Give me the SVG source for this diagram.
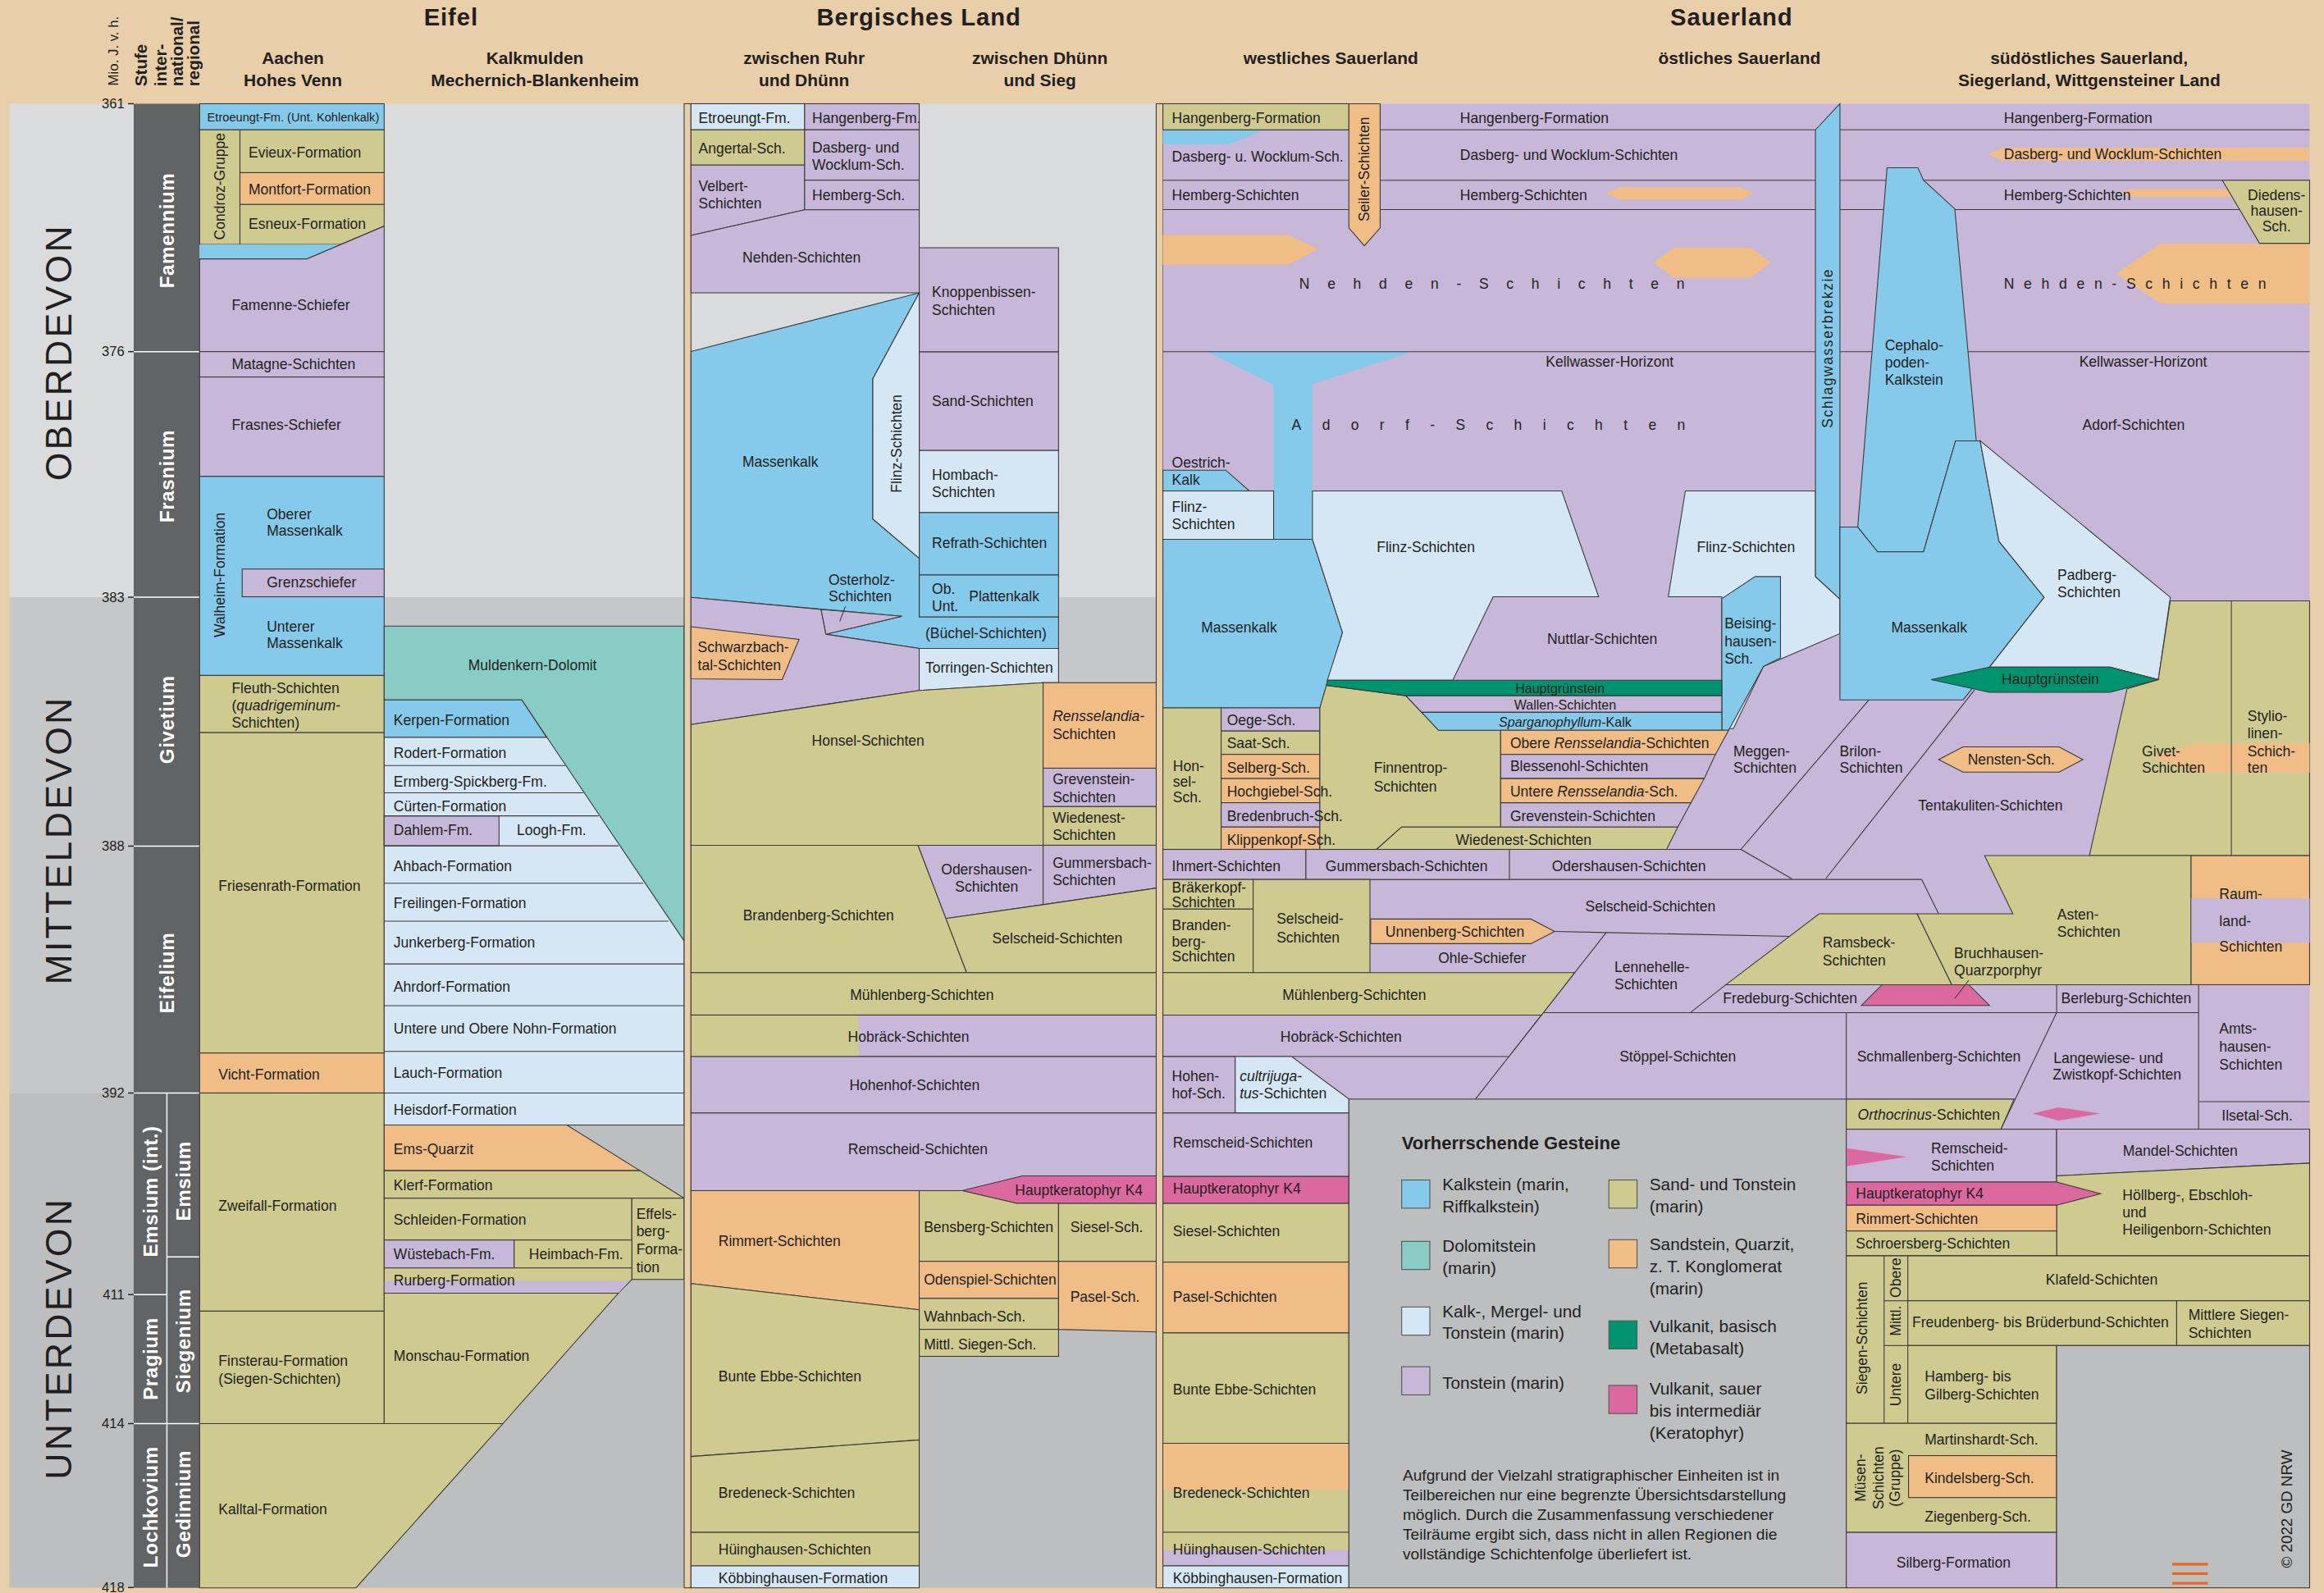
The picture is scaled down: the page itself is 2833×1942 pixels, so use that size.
<svg xmlns="http://www.w3.org/2000/svg" width="2833" height="1942" viewBox="0 0 2833 1942">
<style>
.k{fill:#85C9EB}.d{fill:#89CCC6}.m{fill:#D5E7F5}.t{fill:#C7B7D9}.s{fill:#CFCA8F}.q{fill:#F0BD87}.g{fill:#00936F}.p{fill:#DC68A0}
.u polygon,.u rect{stroke:#3a3a3a;stroke-width:.6}
.u .n{stroke:none}
.ln{stroke:#3a3a3a;stroke-width:.6;fill:none}
text{font-family:"Liberation Sans",Arial,sans-serif;font-size:9.7px;fill:#231F20;dominant-baseline:central}
.c{text-anchor:middle}
.i{font-style:italic}
.sm{font-size:8.1px}
.xs{font-size:8.9px}
.tk{font-size:9.2px;text-anchor:end}
.w{font-weight:bold;font-size:13.4px;fill:#fff;text-anchor:middle;letter-spacing:.3px}
.era{font-size:24.7px;letter-spacing:1.8px;text-anchor:middle}
.h1{font-weight:bold;font-size:16.2px;letter-spacing:.5px;text-anchor:middle}
.h2{font-weight:bold;font-size:11.6px;text-anchor:middle}
.h3{font-weight:bold;font-size:11.4px}
.lg{font-size:11.5px}
.pa{font-size:10.6px}
.lt{font-weight:bold;font-size:12.2px}
.sw{stroke:#555;stroke-width:.6}
</style>
<g transform="scale(1.80676,1.80651)">
<g id="background">
<rect width="1568" height="1075" fill="#E9CEAA"/>
<rect x="6.4" y="70" width="1551.9" height="333" fill="#DADBDC"/>
<rect x="6.4" y="403" width="1551.9" height="334.6" fill="#C6C7C9"/>
<rect x="6.4" y="737.6" width="1551.9" height="333.9" fill="#BDBEC0"/>
</g>
<g id="header">
<text class="h1" x="304.3" y="11.6">Eifel</text>
<text class="h1" x="620" y="11.6">Bergisches Land</text>
<text class="h1" x="1168.3" y="11.6">Sauerland</text>
<text class="h2" x="197.6" y="39.1">Aachen</text>
<text class="h2" x="197.6" y="54">Hohes Venn</text>
<text class="h2" x="360.9" y="39.1">Kalkmulden</text>
<text class="h2" x="360.9" y="54">Mechernich-Blankenheim</text>
<text class="h2" x="542.5" y="39.1">zwischen Ruhr</text>
<text class="h2" x="542.5" y="54">und Dhünn</text>
<text class="h2" x="701.6" y="39.1">zwischen Dhünn</text>
<text class="h2" x="701.6" y="54">und Sieg</text>
<text class="h2" x="897.9" y="39.1">westliches Sauerland</text>
<text class="h2" x="1173.6" y="39.1">östliches Sauerland</text>
<text class="h2" x="1409.5" y="39.1">südöstliches Sauerland,</text>
<text class="h2" x="1409.6" y="54">Siegerland, Wittgensteiner Land</text>
<text transform="translate(76.9,57.8) rotate(-90)" style="font-size:9.3px">Mio. J. v. h.</text>
<text class="h3" transform="translate(94.9,58.2) rotate(-90)">Stufe</text>
<text class="h3" transform="translate(108,58.2) rotate(-90)">inter-</text>
<text class="h3" transform="translate(119.4,58.2) rotate(-90)">national/</text>
<text class="h3" transform="translate(130.5,58.2) rotate(-90)">regional</text>
</g>
<g id="timescale">
<text class="era" transform="translate(39.4,237.6) rotate(-90)">OBERDEVON</text>
<text class="era" transform="translate(39.4,566.8) rotate(-90)">MITTELDEVON</text>
<text class="era" transform="translate(39.4,903) rotate(-90)">UNTERDEVON</text>
<rect x="90.2" y="70" width="44.5" height="1001.5" fill="#626365"/>
<g stroke="#fff" stroke-width=".8">
<line x1="90.2" y1="237.3" x2="134.7" y2="237.3"/>
<line x1="90.2" y1="403" x2="134.7" y2="403"/>
<line x1="90.2" y1="571" x2="134.7" y2="571"/>
<line x1="90.2" y1="737.6" x2="134.7" y2="737.6"/>
<line x1="90.2" y1="960.7" x2="134.7" y2="960.7"/>
<line x1="90.2" y1="873.6" x2="112.6" y2="873.6"/>
<line x1="112.6" y1="848.2" x2="134.7" y2="848.2"/>
<line x1="112.6" y1="737.6" x2="112.6" y2="1071.5"/>
</g>
<g stroke="#231F20" stroke-width=".8">
<line x1="86.4" y1="70" x2="90.2" y2="70"/>
<line x1="86.4" y1="237.3" x2="90.2" y2="237.3"/>
<line x1="86.4" y1="403" x2="90.2" y2="403"/>
<line x1="86.4" y1="571" x2="90.2" y2="571"/>
<line x1="86.4" y1="737.6" x2="90.2" y2="737.6"/>
<line x1="86.4" y1="873.6" x2="90.2" y2="873.6"/>
<line x1="86.4" y1="960.7" x2="90.2" y2="960.7"/>
<line x1="86.4" y1="1071.3" x2="90.2" y2="1071.3"/>
</g>
<text class="tk" x="84" y="70">361</text>
<text class="tk" x="84" y="237.3">376</text>
<text class="tk" x="84" y="403">383</text>
<text class="tk" x="84" y="571">388</text>
<text class="tk" x="84" y="737.6">392</text>
<text class="tk" x="84" y="873.6">411</text>
<text class="tk" x="84" y="960.7">414</text>
<text class="tk" x="84" y="1071.3">418</text>
<text class="w" transform="translate(112.4,155.5) rotate(-90)">Famennium</text>
<text class="w" transform="translate(112.4,321.3) rotate(-90)">Frasnium</text>
<text class="w" transform="translate(112.4,485.6) rotate(-90)">Givetium</text>
<text class="w" transform="translate(112.4,656.5) rotate(-90)">Eifelium</text>
<text class="w" transform="translate(101.4,804) rotate(-90)">Emsium (int.)</text>
<text class="w" transform="translate(123.6,797) rotate(-90)">Emsium</text>
<text class="w" transform="translate(101.4,917) rotate(-90)">Pragium</text>
<text class="w" transform="translate(123.6,905) rotate(-90)">Siegenium</text>
<text class="w" transform="translate(101.4,1017) rotate(-90)">Lochkovium</text>
<text class="w" transform="translate(123.6,1015) rotate(-90)">Gedinnium</text>
</g>
<g id="aachen" class="u">
<rect class="k" x="134.7" y="70" width="124.5" height="17.6"/>
<rect class="s" x="134.7" y="87.6" width="27.2" height="77.4"/>
<rect class="s" x="161.9" y="87.6" width="97.3" height="28.9"/>
<rect class="q" x="161.9" y="116.5" width="97.3" height="21.5"/>
<polygon class="s" points="161.9,138 259.2,138 259.2,152.6 230,165 161.9,165"/>
<polygon class="k n" points="134.7,165 230,165 207,174.7 134.7,174.7"/>
<polygon class="t" points="134.7,174.7 207,174.7 259.2,152.6 259.2,237.3 134.7,237.3"/>
<rect class="t" x="134.7" y="237.3" width="124.5" height="17.1"/>
<rect class="t" x="134.7" y="254.4" width="124.5" height="67.1"/>
<rect class="k" x="134.7" y="321.5" width="124.5" height="134.3"/>
<rect class="t" x="163.4" y="384" width="95.8" height="18.7"/>
<rect class="s" x="134.7" y="455.8" width="124.5" height="38.6"/>
<rect class="s" x="134.7" y="494.4" width="124.5" height="216.2"/>
<rect class="q" x="134.7" y="710.6" width="124.5" height="27"/>
<rect class="s" x="134.7" y="737.6" width="124.5" height="147.2"/>
<rect class="s" x="134.7" y="884.8" width="124.5" height="75.9"/>
<polygon class="s" points="134.7,960.7 339.3,960.7 240.2,1071.5 134.7,1071.5"/>
<text class="sm" x="139.8" y="79.2">Etroeungt-Fm. (Unt. Kohlenkalk)</text>
<text class="c" transform="translate(148.5,125.8) rotate(-90)">Condroz-Gruppe</text>
<text x="167.7" y="102.7">Evieux-Formation</text>
<text x="167.7" y="128.1">Montfort-Formation</text>
<text x="167.7" y="151.4">Esneux-Formation</text>
<text x="156.3" y="205.7">Famenne-Schiefer</text>
<text x="156.3" y="245.8">Matagne-Schichten</text>
<text x="156.3" y="286.5">Frasnes-Schiefer</text>
<text class="c" transform="translate(148.5,388) rotate(-90)">Walheim-Formation</text>
<text x="180" y="347.1">Oberer</text>
<text x="180" y="358.3">Massenkalk</text>
<text x="180" y="393.3">Grenzschiefer</text>
<text x="180" y="422.9">Unterer</text>
<text x="180" y="434.1">Massenkalk</text>
<text x="156.3" y="464.2">Fleuth-Schichten</text>
<text x="156.3" y="475.8">(<tspan class="i">quadrigeminum-</tspan></text>
<text x="156.3" y="487.5">Schichten)</text>
<text x="147.4" y="597.6">Friesenrath-Formation</text>
<text x="147.4" y="725.4">Vicht-Formation</text>
<text x="147.4" y="813.7">Zweifall-Formation</text>
<text x="147.4" y="918.6">Finsterau-Formation</text>
<text x="147.4" y="930.5">(Siegen-Schichten)</text>
<text x="147.4" y="1018.3">Kalltal-Formation</text>
</g>
<g id="kalkmulden" class="u">
<rect class="m" x="259.2" y="497.5" width="202.4" height="261.7"/>
<polygon class="d" points="259.2,422.5 461.6,422.5 461.6,635 352,472.3 259.2,472.3"/>
<polygon class="k" points="259.2,472.3 352,472.3 368.7,497.5 259.2,497.5"/>
<rect class="t" x="259.2" y="550.6" width="77.5" height="20.2"/>
<g class="ln">
<line x1="259.2" y1="516.6" x2="381.4" y2="516.6"/>
<line x1="259.2" y1="535" x2="393.6" y2="535"/>
<line x1="259.2" y1="550.6" x2="403.9" y2="550.6"/>
<line x1="259.2" y1="570.8" x2="417.3" y2="570.8"/>
<line x1="259.2" y1="596" x2="434" y2="596"/>
<line x1="259.2" y1="621.6" x2="451" y2="621.6"/>
<line x1="259.2" y1="650.5" x2="461.6" y2="650.5"/>
<line x1="259.2" y1="678.7" x2="461.6" y2="678.7"/>
<line x1="259.2" y1="709.5" x2="461.6" y2="709.5"/>
<line x1="259.2" y1="737.6" x2="461.6" y2="737.6"/>
</g>
<polygon class="q" points="259.2,759.2 382.5,759.2 431.8,790 259.2,790"/>
<polygon class="s" points="259.2,790 431.8,790 461.6,808.6 259.2,808.6"/>
<rect class="s" x="259.2" y="808.6" width="167.1" height="28.2"/>
<rect class="s" x="426.3" y="808.6" width="35.3" height="54.8"/>
<rect class="t" x="259.2" y="836.8" width="87.7" height="18.9"/>
<rect class="s" x="346.9" y="836.8" width="79.4" height="18.9"/>
<polygon class="s" points="259.2,855.7 426.3,855.7 426.3,863.4 417.2,872.7 259.2,872.7"/>
<polygon class="t n" points="259.5,864.5 424.6,864.5 417.4,872.4 259.5,872.4"/>
<polygon class="s" points="259.2,872.7 417.2,872.7 339.3,960.7 259.2,960.7"/>
<text x="315.9" y="448.8">Muldenkern-Dolomit</text>
<text x="265.6" y="485.8">Kerpen-Formation</text>
<text x="265.6" y="508.4">Rodert-Formation</text>
<text x="265.6" y="527.3">Ermberg-Spickberg-Fm.</text>
<text x="265.6" y="544.1">Cürten-Formation</text>
<text x="265.6" y="560.4">Dahlem-Fm.</text>
<text x="348.7" y="560.4">Loogh-Fm.</text>
<text x="265.6" y="584.4">Ahbach-Formation</text>
<text x="265.6" y="609.3">Freilingen-Formation</text>
<text x="265.6" y="636.1">Junkerberg-Formation</text>
<text x="265.6" y="665.7">Ahrdorf-Formation</text>
<text x="265.6" y="694.3">Untere und Obere Nohn-Formation</text>
<text x="265.6" y="724.3">Lauch-Formation</text>
<text x="265.6" y="748.7">Heisdorf-Formation</text>
<text x="265.6" y="775.3">Ems-Quarzit</text>
<text x="265.6" y="799.8">Klerf-Formation</text>
<text x="265.6" y="823.3">Schleiden-Formation</text>
<text x="265.6" y="846.6">Wüstebach-Fm.</text>
<text x="356.9" y="846.6">Heimbach-Fm.</text>
<text x="265.6" y="863.9">Rurberg-Formation</text>
<text x="265.6" y="915.3">Monschau-Formation</text>
<text x="429.3" y="819">Effels-</text>
<text x="429.3" y="831">berg-</text>
<text x="429.3" y="843">Forma-</text>
<text x="429.3" y="855">tion</text>
</g>
<g id="separators" class="u">
<rect x="461.6" y="70" width="4.6" height="1001.5" fill="#E9CEAA"/>
<rect x="780.1" y="70" width="4.5" height="1001.5" fill="#E9CEAA"/>
</g>
<g id="bergisches-land" class="u">
<rect class="m" x="466.2" y="70" width="76.7" height="17.6"/>
<rect class="t" x="542.9" y="70" width="77.3" height="17.6"/>
<rect class="s" x="466.2" y="87.6" width="76.7" height="23.8"/>
<polygon class="t" points="466.2,111.4 542.9,111.4 542.9,141.6 466.2,158.9"/>
<rect class="t" x="542.9" y="87.6" width="77.3" height="34"/>
<rect class="t" x="542.9" y="121.6" width="77.3" height="20"/>
<polygon class="t" points="466.2,158.9 542.9,141.6 620.2,141.6 620.2,197.6 466.2,197.6"/>
<rect class="t" x="620.2" y="167.2" width="94" height="70.3"/>
<rect class="t" x="620.2" y="237.5" width="94" height="66.5"/>
<rect class="m" x="620.2" y="304" width="94" height="41.9"/>
<rect class="k" x="620.2" y="345.9" width="94" height="42.1"/>
<rect class="k" x="620.2" y="388" width="94" height="28.4"/>
<polygon class="k" points="466.2,237.2 620.2,197.6 588.9,255.6 588.9,350.2 620.2,376.8 620.2,416.4 714.2,416.4 714.2,437.6 620.2,437.6 557.2,428 608.5,415.9 466.2,403.1"/>
<polygon class="m" points="620.2,197.6 588.9,255.6 588.9,350.2 620.2,376.8"/>
<polygon class="t" points="553.9,411.3 608.5,415.9 557.2,428"/>
<polygon class="t" points="466.2,403.1 553.9,411.3 557.2,428 620.2,437.6 620.2,466 466.2,488.9"/>
<polygon class="q" points="466.2,422.9 539.1,431.5 527.7,458.6 466.2,458.1"/>
<line class="ln" x1="570.4" y1="409" x2="566.6" y2="419.4"/>
<polygon class="m" points="620.2,437.6 714.2,437.6 714.2,460.6 703.8,460.7 620.2,466"/>
<polygon class="s" points="466.2,488.9 620.2,466 703.8,460.7 703.8,570.4 466.2,570.4"/>
<rect class="q" x="703.8" y="460.7" width="76.3" height="57.7"/>
<rect class="t" x="703.8" y="518.4" width="76.3" height="25.9"/>
<rect class="s" x="703.8" y="544.3" width="76.3" height="26.1"/>
<polygon class="s" points="466.2,570.4 619.4,570.4 652.2,656.4 466.2,656.4"/>
<polygon class="t" points="619.4,570.4 703.8,570.4 703.8,610.5 638.2,619.8"/>
<polygon class="t" points="703.8,570.4 780.1,570.4 780.1,599.3 703.8,610.5"/>
<polygon class="s" points="638.2,619.8 703.8,610.5 780.1,599.3 780.1,656.4 652.2,656.4"/>
<rect class="s" x="466.2" y="656.4" width="313.9" height="28.6"/>
<rect class="t" x="466.2" y="685" width="313.9" height="28"/>
<rect class="s n" x="466.5" y="685.3" width="112.8" height="27.4"/>
<rect class="t" x="466.2" y="713" width="313.9" height="38.1"/>
<rect class="t" x="466.2" y="751.1" width="313.9" height="52.4"/>
<polygon class="p" points="649.2,803.5 689.8,793.5 780.1,793.5 780.1,812.1 686,812.1"/>
<polygon class="q" points="466.2,803.5 620.2,803.5 620.2,883.9 466.2,866.2"/>
<polygon class="s" points="620.2,803.5 649.2,803.5 686,812.1 714.2,812.1 714.2,851.2 620.2,851.2"/>
<rect class="s" x="714.2" y="812.1" width="65.9" height="39.1"/>
<rect class="q" x="620.2" y="851.2" width="94" height="25"/>
<rect class="s" x="620.2" y="876.2" width="94" height="20.9"/>
<rect class="s" x="620.2" y="897.1" width="94" height="18.2"/>
<polygon class="q" points="714.2,851.2 780.1,851.2 780.1,898.8 714.2,897.1"/>
<polygon class="s" points="466.2,866.2 620.2,883.9 620.2,971.7 466.2,982.9"/>
<polygon class="s" points="466.2,982.9 620.2,971.7 620.2,1034.1 466.2,1034.1"/>
<rect class="s" x="466.2" y="1034.1" width="154" height="22.6"/>
<rect class="m" x="466.2" y="1056.7" width="154" height="14.8"/>
<text x="471.3" y="79.7">Etroeungt-Fm.</text>
<text x="548" y="79.7">Hangenberg-Fm.</text>
<text x="471.3" y="100.2">Angertal-Sch.</text>
<text x="548" y="99.7">Dasberg- und</text>
<text x="548" y="111.4">Wocklum-Sch.</text>
<text x="471.3" y="125.8">Velbert-</text>
<text x="471.3" y="137.4">Schichten</text>
<text x="548" y="131.6">Hemberg-Sch.</text>
<text class="c" x="540.8" y="173.6">Nehden-Schichten</text>
<text x="628.8" y="196.9">Knoppenbissen-</text>
<text x="628.8" y="209">Schichten</text>
<text x="628.8" y="270.9">Sand-Schichten</text>
<text class="c" x="526.5" y="311.7">Massenkalk</text>
<text class="c" transform="translate(604.7,299.4) rotate(-90)">Flinz-Schichten</text>
<text x="628.8" y="320.3">Hombach-</text>
<text x="628.8" y="332">Schichten</text>
<text x="628.8" y="366.5">Refrath-Schichten</text>
<text x="559" y="391.5">Osterholz-</text>
<text x="559" y="402.7">Schichten</text>
<text x="628.8" y="397.3">Ob.</text>
<text x="628.8" y="409">Unt.</text>
<text x="653.8" y="402.4">Plattenkalk</text>
<text x="624.3" y="427.6">(Büchel-Schichten)</text>
<text x="470.8" y="436.9">Schwarzbach-</text>
<text x="470.8" y="449">tal-Schichten</text>
<text x="624.3" y="450.4">Torringen-Schichten</text>
<text x="710.2" y="483.5" class="i">Rensselandia-</text>
<text x="710.2" y="495.6">Schichten</text>
<text class="c" x="585.7" y="499.8">Honsel-Schichten</text>
<text x="710.2" y="526.1">Grevenstein-</text>
<text x="710.2" y="537.8">Schichten</text>
<text x="710.2" y="551.8">Wiedenest-</text>
<text x="710.2" y="563.4">Schichten</text>
<text x="710.2" y="582.5">Gummersbach-</text>
<text x="710.2" y="594.2">Schichten</text>
<text class="c" x="665.7" y="586.7">Odershausen-</text>
<text class="c" x="665.7" y="598.3">Schichten</text>
<text class="c" x="552.2" y="617.5">Brandenberg-Schichten</text>
<text class="c" x="713.4" y="633.3">Selscheid-Schichten</text>
<text class="c" x="622" y="671.5">Mühlenberg-Schichten</text>
<text class="c" x="613" y="699.5">Hobräck-Schichten</text>
<text class="c" x="617" y="732.2">Hohenhof-Schichten</text>
<text class="c" x="619.3" y="775.3">Remscheid-Schichten</text>
<text x="684.8" y="803.3">Hauptkeratophyr K4</text>
<text x="484.7" y="837.3">Rimmert-Schichten</text>
<text x="623.3" y="827.9">Bensberg-Schichten</text>
<text x="722.1" y="827.9">Siesel-Sch.</text>
<text x="623.3" y="863.8">Odenspiel-Schichten</text>
<text x="722.1" y="875">Pasel-Sch.</text>
<text x="623.3" y="888.3">Wahnbach-Sch.</text>
<text x="623.3" y="907.2">Mittl. Siegen-Sch.</text>
<text x="484.7" y="929.1">Bunte Ebbe-Schichten</text>
<text x="484.7" y="1007.3">Bredeneck-Schichten</text>
<text x="484.7" y="1045.8">Hüinghausen-Schichten</text>
<text x="484.7" y="1064.9">Köbbinghausen-Formation</text>
</g>
<g id="sauerland" class="u">
<rect class="t n" x="784.6" y="70" width="773.7" height="1001.5"/>
<polygon class="k n" points="784.6,87.6 852.4,87.6 829.5,97.4 784.6,97.4"/>
<polygon class="q n" points="784.6,158.4 868.9,158.4 889.3,168.2 868.9,178.7 784.6,178.7"/>
<polygon class="q n" points="1115.5,177.1 1129.4,167 1181,167 1194.9,177.1 1181,187.5 1129.4,187.5"/>
<polygon class="q n" points="1427.5,184.7 1458,164.2 1558.3,164.2 1558.3,205 1458,205"/>
<polygon class="q n" points="1083.7,130.5 1092.6,126.3 1174.6,126.3 1183.5,130.5 1174.6,134.7 1092.6,134.7"/>
<polygon class="q n" points="1341,104.1 1351.2,99.7 1558.3,99.7 1558.3,108.3 1351.2,108.3"/>
<polygon class="q n" points="1431,130.2 1437,127.6 1514,127.6 1514,132.8 1437,132.8"/>
<polygon class="k n" points="814.3,237.3 952.8,237.3 885.5,259.1 885.5,364 859.3,364 859.3,259.8"/>
<g class="ln">
<line x1="784.6" y1="87.6" x2="1558.3" y2="87.6"/>
<line x1="784.6" y1="121.6" x2="1558.3" y2="121.6"/>
<line x1="784.6" y1="141.4" x2="1558.3" y2="141.4"/>
<line x1="784.6" y1="237.3" x2="1558.3" y2="237.3"/>
<polyline points="1261,472.3 1174.6,573.2 1208.9,593"/>
<line x1="1332.2" y1="465.6" x2="1231.8" y2="593"/>
<line x1="784.6" y1="573.2" x2="1174.6" y2="573.2"/>
<line x1="784.6" y1="593.5" x2="1296.6" y2="593.5"/>
<line x1="1296.6" y1="593.5" x2="1308" y2="616.7"/>
<polyline points="1048.9,628.6 1083.7,629.3 1207.3,631.9"/>
<line x1="1083.7" y1="629.3" x2="995.5" y2="741.7"/>
<line x1="1041.5" y1="683.4" x2="1483.4" y2="683.4"/>
<line x1="1164.5" y1="664.5" x2="1140.4" y2="683.4"/>
<line x1="1387.6" y1="664.5" x2="1387.6" y2="683.4"/>
<line x1="1483.4" y1="664.5" x2="1483.4" y2="762"/>
<line x1="1245.7" y1="683.4" x2="1245.7" y2="741.7"/>
<line x1="1387.6" y1="683.4" x2="1350" y2="762"/>
<line x1="1483.4" y1="743.4" x2="1558.3" y2="743.4"/>
<line x1="1245.7" y1="762" x2="1558.3" y2="762"/>
</g>
<rect class="s" x="784.6" y="70" width="125.5" height="17.6"/>
<polygon class="q" points="910.1,70 931.2,70 931.2,153.8 920.5,165.9 910.1,153.8"/>
<polygon class="s" points="1499.4,121.6 1558.3,121.6 1558.3,164.2 1524.5,164.2"/>
<polygon class="k" points="784.6,317.3 827,317.3 843,331.3 784.6,331.3"/>
<rect class="m" x="784.6" y="331.3" width="74.7" height="32.7"/>
<polygon class="k" points="784.6,364 885.5,364 905.8,426.9 890.5,477.7 784.6,477.7"/>
<polygon class="m" points="885.5,331.3 1053.7,331.3 1078.6,402.7 1007.4,402.7 980.2,459 895.6,459 905.8,426.9 885.5,364"/>
<polygon class="m" points="1137.1,331.3 1224.9,331.3 1224.9,389.1 1241.4,404.3 1241.4,427.6 1189.8,449.7 1169.5,491.7 1161.7,491.7 1161.7,402.7 1125.6,402.7"/>
<polygon class="k" points="1161.7,404 1184.2,389.1 1201.3,389.1 1201.3,443.9 1189.8,449.7 1166.3,492.8 1161.7,492.8"/>
<polygon class="k" points="1224.9,87.6 1241.4,70 1241.4,404.3 1224.9,389.1"/>
<polygon class="k" points="1273.2,113.2 1294,113.2 1297.8,121.6 1318.9,141 1333.4,297.5 1319.4,297.5 1297.8,372.4 1266.8,372.4 1253.4,355.7"/>
<polygon class="k" points="1241.4,355.7 1253.4,355.7 1266.8,372.4 1297.8,372.4 1319.4,297.5 1336,297.5 1348.7,365.3 1379.2,403.1 1342.3,450.2 1324.5,472.3 1241.4,472.3"/>
<polygon class="m" points="1336,297.5 1464.3,403.1 1456.2,458.6 1423.6,450.2 1342.3,450.2 1379.2,403.1 1348.7,365.3"/>
<polygon class="s" points="1464.3,405.5 1558.3,405.5 1558.3,577.4 1409.7,577.4 1435.1,464.9 1456.2,458.6"/>
<polygon class="q n" points="1452,511.5 1482,501.4 1558.3,501.4 1558.3,521.5 1482,521.5"/>
<line class="ln" x1="1505.5" y1="405.5" x2="1505.5" y2="577.4"/>
<polygon class="g" points="1302.9,458.6 1342.3,450.2 1423.6,450.2 1456.2,458.6 1423.6,467.2 1342.3,467.2"/>
<polygon class="q" points="1308,512.6 1324.5,504 1389.3,504 1405.3,512.6 1389.3,521 1324.5,521"/>
<rect class="s" x="784.6" y="477.7" width="39.3" height="95.5"/>
<rect class="t" x="823.9" y="477.7" width="66.6" height="15.6"/>
<rect class="s" x="823.9" y="493.3" width="66.6" height="15.8"/>
<rect class="q" x="823.9" y="509.1" width="66.6" height="16.3"/>
<rect class="q" x="823.9" y="525.4" width="66.6" height="16.3"/>
<rect class="t" x="823.9" y="541.7" width="66.6" height="16.4"/>
<rect class="q" x="823.9" y="558.1" width="66.6" height="15.1"/>
<polygon class="s" points="894.9,462.5 948.5,469.5 970.6,492.8 1012.5,492.8 1012.5,558.1 945.7,558.1 928.7,573.2 890.5,573.2 890.5,477.7"/>
<polygon class="g" points="895.6,459 1161.7,459 1161.7,469.5 948.5,469.5 894.9,462.5"/>
<polygon class="t" points="948.5,469.5 1161.7,469.5 1161.7,480.7 959.2,480.7"/>
<polygon class="k" points="959.2,480.7 1161.7,480.7 1161.7,492.8 970.6,492.8"/>
<polygon class="q" points="1012.5,492.8 1166.3,492.8 1157.4,509.1 1012.5,509.1"/>
<polygon class="t" points="1012.5,509.1 1157.4,509.1 1149.8,525.4 1012.5,525.4"/>
<polygon class="q" points="1012.5,525.4 1149.8,525.4 1140.9,541.7 1012.5,541.7"/>
<polygon class="t" points="1012.5,541.7 1140.9,541.7 1132,558.1 1012.5,558.1"/>
<polygon class="s" points="945.7,558.1 1132,558.1 1124.4,573.2 928.7,573.2"/>
<rect class="t" x="784.6" y="573.2" width="96.5" height="20.3"/>
<rect class="t" x="881.1" y="573.2" width="137.3" height="20.3"/>
<rect class="s" x="784.6" y="593.5" width="60.9" height="20"/>
<rect class="s" x="784.6" y="613.5" width="60.9" height="42.9"/>
<rect class="s" x="845.5" y="593.5" width="78.8" height="62.9"/>
<polygon class="q" points="924.8,620.2 1032.9,620.2 1048.9,628.6 1032.9,636.8 924.8,636.8"/>
<polygon class="s" points="784.6,656.4 1062.4,656.4 1040,685 784.6,685"/>
<polygon class="t" points="784.6,685 1040,685 1018,713 784.6,713"/>
<polygon class="s" points="1227.4,616.7 1293.5,616.7 1316.9,664.5 1164.5,664.5"/>
<polygon class="s" points="1339,577.4 1478.3,577.4 1478.3,664.5 1316.9,664.5 1293.5,616.7 1358.1,616.7"/>
<rect class="q" x="1478.3" y="577.4" width="80" height="87.1"/>
<rect class="t n" x="1478.6" y="606.3" width="79.7" height="29.8"/>
<polygon class="p" points="1255.9,678.5 1342.3,678.5 1328.3,664.5 1269.9,664.5"/>
<line class="ln" x1="1328.3" y1="661.5" x2="1318.9" y2="673.8"/>
<rect class="t" x="784.6" y="713" width="48.8" height="38.1"/>
<polygon class="m" points="833.4,713 871.5,713 910.1,741.7 910.1,751.1 833.4,751.1"/>
<rect class="t" x="784.6" y="751.1" width="125.5" height="42.8"/>
<rect class="p" x="784.6" y="793.9" width="125.5" height="18.2"/>
<rect class="s" x="784.6" y="812.1" width="125.5" height="39.6"/>
<rect class="q" x="784.6" y="851.7" width="125.5" height="47.8"/>
<rect class="s" x="784.6" y="899.5" width="125.5" height="74.5"/>
<rect class="s" x="784.6" y="974" width="125.5" height="60.1"/>
<rect class="q n" x="784.9" y="974.3" width="124.9" height="31.2"/>
<rect class="t" x="784.6" y="1034.1" width="125.5" height="22.6"/>
<rect class="s n" x="784.9" y="1034.4" width="124.9" height="11.8"/>
<rect class="m" x="784.6" y="1056.7" width="125.5" height="14.8"/>
<rect x="910.1" y="741.7" width="335.6" height="329.8" fill="#BDBEC0"/>
<polygon class="s" points="1245.7,741.7 1358.9,741.7 1350,762 1245.7,762"/>
<polygon class="p n" points="1371.4,751.5 1389,747.3 1417.3,751.5 1389,756.2"/>
<rect class="t" x="1245.7" y="762" width="141.9" height="35.7"/>
<polygon class="p n" points="1246,774.8 1286.4,780.6 1246,787"/>
<polygon class="t" points="1387.6,762 1558.3,762 1558.3,784.9 1387.6,793.5"/>
<polygon class="s" points="1387.6,793.5 1558.3,784.9 1558.3,847.5 1387.6,847.5"/>
<polygon class="p" points="1245.7,797.7 1387.6,797.7 1417.3,805.6 1387.6,813.3 1245.7,813.3"/>
<rect class="q" x="1245.7" y="813.3" width="141.9" height="17.4"/>
<rect class="s" x="1245.7" y="830.7" width="141.9" height="16.8"/>
<rect class="s" x="1245.7" y="847.5" width="312.6" height="60.5"/>
<rect class="s" x="1245.7" y="847.5" width="141.9" height="113"/>
<rect class="s" x="1287.2" y="847.5" width="271.1" height="30.3"/>
<rect class="s" x="1287.2" y="877.8" width="181.4" height="30.2"/>
<rect class="s" x="1468.6" y="877.8" width="89.7" height="30.2"/>
<rect class="s" x="1287.2" y="908" width="100.4" height="52.5"/>
<line class="ln" x1="1271.2" y1="847.5" x2="1271.2" y2="960.5"/>
<line class="ln" x1="1271.2" y1="877.8" x2="1287.2" y2="877.8"/>
<line class="ln" x1="1271.2" y1="908" x2="1287.2" y2="908"/>
<rect class="s" x="1245.7" y="960.5" width="141.9" height="73.6"/>
<rect class="q" x="1287.7" y="982.3" width="99.9" height="28.3"/>
<rect class="t" x="1245.7" y="1034.1" width="141.9" height="37.4"/>
<rect x="1387.6" y="908" width="170.7" height="163.5" fill="#BDBEC0"/>
<text x="790.7" y="79.7">Hangenberg-Formation</text>
<text x="985.1" y="79.7">Hangenberg-Formation</text>
<text x="1352" y="79.7">Hangenberg-Formation</text>
<text x="790.7" y="106">Dasberg- u. Wocklum-Sch.</text>
<text x="985.1" y="104.6">Dasberg- und Wocklum-Schichten</text>
<text x="1352" y="104.1">Dasberg- und Wocklum-Schichten</text>
<text x="790.7" y="131.6">Hemberg-Schichten</text>
<text x="985.1" y="131.6">Hemberg-Schichten</text>
<text x="1352" y="131.6">Hemberg-Schichten</text>
<text class="c" transform="translate(920.5,114.2) rotate(-90)">Seiler-Schichten</text>
<text class="c" x="1536" y="131.6">Diedens-</text>
<text class="c" x="1536" y="142.1">hausen-</text>
<text class="c" x="1536" y="152.6">Sch.</text>
<text x="876.6" y="191.5" textLength="260" lengthAdjust="spacing">Nehden-Schichten</text>
<text x="1352" y="191.5" textLength="177" lengthAdjust="spacing">Nehden-Schichten</text>
<text class="c" transform="translate(1233,235.3) rotate(-90)" textLength="107" lengthAdjust="spacing">Schlagwasserbrekzie</text>
<text x="1271.7" y="233">Cephalo-</text>
<text x="1271.7" y="244.6">poden-</text>
<text x="1271.7" y="256.3">Kalkstein</text>
<text class="c" x="1086" y="243.9">Kellwasser-Horizont</text>
<text class="c" x="1446" y="243.9">Kellwasser-Horizont</text>
<text x="871.5" y="287" textLength="265.5" lengthAdjust="spacing">Adorf-Schichten</text>
<text class="c" x="1439.5" y="287">Adorf-Schichten</text>
<text x="790.7" y="312.2">Oestrich-</text>
<text x="790.7" y="323.8">Kalk</text>
<text x="790.7" y="342">Flinz-</text>
<text x="790.7" y="353.6">Schichten</text>
<text class="c" x="962" y="369.3">Flinz-Schichten</text>
<text class="c" x="1178" y="369.3">Flinz-Schichten</text>
<text x="1388.1" y="388">Padberg-</text>
<text x="1388.1" y="399.6">Schichten</text>
<text class="c" x="836" y="423.6">Massenkalk</text>
<text class="c" x="1301.6" y="423.6">Massenkalk</text>
<text x="1163.5" y="420.6">Beising-</text>
<text x="1163.5" y="433">hausen-</text>
<text x="1163.5" y="444.6">Sch.</text>
<text class="c" x="1081" y="431.1">Nuttlar-Schichten</text>
<text class="c xs" x="1052.5" y="464.2">Hauptgrünstein</text>
<text class="c" x="1383.4" y="458.6">Hauptgrünstein</text>
<text class="c xs" x="1056" y="475.3">Wallen-Schichten</text>
<text class="c xs" x="1056" y="487"><tspan class="i">Sparganophyllum</tspan>-Kalk</text>
<text x="827.8" y="485.8">Oege-Sch.</text>
<text x="827.8" y="501.7">Saat-Sch.</text>
<text x="827.8" y="518">Selberg-Sch.</text>
<text x="827.8" y="534">Hochgiebel-Sch.</text>
<text x="827.8" y="550.6">Bredenbruch-Sch.</text>
<text x="827.8" y="566.7">Klippenkopf-Sch.</text>
<text x="791.4" y="517.3">Hon-</text>
<text x="791.4" y="527.8">sel-</text>
<text x="791.4" y="538.2">Sch.</text>
<text x="926.9" y="518.4">Finnentrop-</text>
<text x="926.9" y="530.6">Schichten</text>
<text x="1018.9" y="501.7">Obere <tspan class="i">Rensselandia</tspan>-Schichten</text>
<text x="1018.9" y="517.3">Blessenohl-Schichten</text>
<text x="1018.9" y="534">Untere <tspan class="i">Rensselandia</tspan>-Sch.</text>
<text x="1018.9" y="550.6">Grevenstein-Schichten</text>
<text class="c" x="1028" y="566.7">Wiedenest-Schichten</text>
<text x="1169.5" y="506.8">Meggen-</text>
<text x="1169.5" y="518.4">Schichten</text>
<text x="1241.2" y="506.8">Brilon-</text>
<text x="1241.2" y="518.4">Schichten</text>
<text class="c" x="1357" y="512.6">Nensten-Sch.</text>
<text class="c" x="1343" y="543.4">Tentakuliten-Schichten</text>
<text x="1445.2" y="506.8">Givet-</text>
<text x="1445.2" y="518.4">Schichten</text>
<text x="1516.4" y="483">Stylio-</text>
<text x="1516.4" y="494.7">linen-</text>
<text x="1516.4" y="506.8">Schich-</text>
<text x="1516.4" y="518.4">ten</text>
<text x="790.7" y="584.4">Ihmert-Schichten</text>
<text class="c" x="949" y="584.4">Gummersbach-Schichten</text>
<text class="c" x="1099" y="584.4">Odershausen-Schichten</text>
<text x="790.7" y="598.8">Bräkerkopf-</text>
<text x="790.7" y="608.8">Schichten</text>
<text x="790.7" y="624.4">Branden-</text>
<text x="790.7" y="635.4">berg-</text>
<text x="790.7" y="645.4">Schichten</text>
<text x="861.3" y="620.2">Selscheid-</text>
<text x="861.3" y="632.6">Schichten</text>
<text class="c" x="1113.5" y="611.6">Selscheid-Schichten</text>
<text class="c" x="981.6" y="628.6">Unnenberg-Schichten</text>
<text class="c" x="1000" y="646.6">Ohle-Schiefer</text>
<text x="1089.3" y="652.9">Lennehelle-</text>
<text x="1089.3" y="664.1">Schichten</text>
<text x="1388" y="617">Asten-</text>
<text x="1388" y="629">Schichten</text>
<text x="1497.3" y="603.5">Raum-</text>
<text x="1497.3" y="621.4">land-</text>
<text x="1497.3" y="638.9">Schichten</text>
<text x="1229.7" y="636.1">Ramsbeck-</text>
<text x="1229.7" y="648.2">Schichten</text>
<text x="1318.4" y="643.1">Bruchhausen-</text>
<text x="1318.4" y="654.7">Quarzporphyr</text>
<text class="c" x="913.7" y="671.5">Mühlenberg-Schichten</text>
<text x="1162.5" y="673.8">Fredeburg-Schichten</text>
<text x="1390.6" y="673.8">Berleburg-Schichten</text>
<text x="1497.3" y="694.3">Amts-</text>
<text x="1497.3" y="706.2">hausen-</text>
<text x="1497.3" y="718.5">Schichten</text>
<text class="c" x="904.8" y="699.5">Hobräck-Schichten</text>
<text class="c" x="1132" y="713">Stöppel-Schichten</text>
<text x="1252.9" y="712.9">Schmallenberg-Schichten</text>
<text x="1385.5" y="714.1">Langewiese- und</text>
<text x="1385" y="725.4">Zwistkopf-Schichten</text>
<text x="1499" y="752.7">Ilsetal-Sch.</text>
<text x="1253.4" y="752.2"><tspan class="i">Orthocrinus</tspan>-Schichten</text>
<text x="790.7" y="726.4">Hohen-</text>
<text x="790.7" y="738">hof-Sch.</text>
<text x="836.4" y="726.4" class="i">cultrijuga-</text>
<text x="836.4" y="738"><tspan class="i">tus</tspan>-Schichten</text>
<text x="791.4" y="771.3">Remscheid-Schichten</text>
<text x="791.4" y="802.3">Hauptkeratophyr K4</text>
<text x="791.4" y="830.7">Siesel-Schichten</text>
<text x="791.4" y="875">Pasel-Schichten</text>
<text x="791.4" y="937.9">Bunte Ebbe-Schichten</text>
<text x="791.4" y="1007.3">Bredeneck-Schichten</text>
<text x="791.4" y="1045.8">Hüinghausen-Schichten</text>
<text x="791.4" y="1064.9">Köbbinghausen-Formation</text>
<text x="1302.9" y="774.8">Remscheid-</text>
<text x="1302.9" y="786.5">Schichten</text>
<text class="c" x="1471" y="776.5">Mandel-Schichten</text>
<text x="1252.1" y="805.6">Hauptkeratophyr K4</text>
<text x="1252.1" y="822.6">Rimmert-Schichten</text>
<text x="1252.1" y="839.4">Schroersberg-Schichten</text>
<text x="1432" y="806.3">Höllberg-, Ebschloh-</text>
<text x="1432" y="817.9">und</text>
<text x="1432" y="829.6">Heiligenborn-Schichten</text>
<text class="c" x="1418" y="863.8">Klafeld-Schichten</text>
<text x="1290.2" y="892.5">Freudenberg- bis Brüderbund-Schichten</text>
<text x="1476.5" y="887.1">Mittlere Siegen-</text>
<text x="1476.5" y="899.5">Schichten</text>
<text x="1298.6" y="929.1">Hamberg- bis</text>
<text x="1298.6" y="941">Gilberg-Schichten</text>
<text class="c" transform="translate(1256.4,903) rotate(-90)">Siegen-Schichten</text>
<text class="c" transform="translate(1279.2,862.2) rotate(-90)">Obere</text>
<text class="c" transform="translate(1279.2,891.3) rotate(-90)">Mittl.</text>
<text class="c" transform="translate(1279.2,934.4) rotate(-90)">Untere</text>
<text class="c" transform="translate(1255.4,997.3) rotate(-90)">Müsen-</text>
<text class="c" transform="translate(1267.4,997.3) rotate(-90)">Schichten</text>
<text class="c" transform="translate(1278.8,997.3) rotate(-90)">(Gruppe)</text>
<text x="1298.6" y="971.7">Martinshardt-Sch.</text>
<text x="1298.6" y="997.3">Kindelsberg-Sch.</text>
<text x="1298.6" y="1023.6">Ziegenberg-Sch.</text>
<text class="c" x="1318" y="1054.4">Silberg-Formation</text>
</g>
<g id="legend">
<text class="lt" x="945.7" y="771.3">Vorherrschende Gesteine</text>
<rect class="k sw" x="945.7" y="796.3" width="19" height="19"/>
<rect class="d sw" x="945.7" y="837.7" width="19" height="19"/>
<rect class="m sw" x="945.7" y="882" width="19" height="19"/>
<rect class="t sw" x="945.7" y="922.3" width="19" height="19"/>
<rect class="s sw" x="1085.5" y="796.3" width="19" height="19"/>
<rect class="q sw" x="1085.5" y="836.6" width="19" height="19"/>
<rect class="g sw" x="1085.5" y="891.3" width="19" height="19"/>
<rect class="p sw" x="1085.5" y="934.9" width="19" height="19"/>
<text class="lg" x="973.1" y="799.3">Kalkstein (marin,</text>
<text class="lg" x="973.1" y="814">Riffkalkstein)</text>
<text class="lg" x="973.1" y="840.8">Dolomitstein</text>
<text class="lg" x="973.1" y="855.7">(marin)</text>
<text class="lg" x="973.1" y="885">Kalk-, Mergel- und</text>
<text class="lg" x="973.1" y="899.5">Tonstein (marin)</text>
<text class="lg" x="973.1" y="932.8">Tonstein (marin)</text>
<text class="lg" x="1112.9" y="799.3">Sand- und Tonstein</text>
<text class="lg" x="1112.9" y="814">(marin)</text>
<text class="lg" x="1112.9" y="839.6">Sandstein, Quarzit,</text>
<text class="lg" x="1112.9" y="854.5">z. T. Konglomerat</text>
<text class="lg" x="1112.9" y="869.2">(marin)</text>
<text class="lg" x="1112.9" y="894.8">Vulkanit, basisch</text>
<text class="lg" x="1112.9" y="909.5">(Metabasalt)</text>
<text class="lg" x="1112.9" y="936.7">Vulkanit, sauer</text>
<text class="lg" x="1112.9" y="951.9">bis intermediär</text>
<text class="lg" x="1112.9" y="966.6">(Keratophyr)</text>
<text class="pa" x="946.4" y="995.7">Aufgrund der Vielzahl stratigraphischer Einheiten ist in</text>
<text class="pa" x="946.4" y="1009">Teilbereichen nur eine begrenzte Übersichtsdarstellung</text>
<text class="pa" x="946.4" y="1022.3">möglich. Durch die Zusammenfassung verschiedener</text>
<text class="pa" x="946.4" y="1035.3">Teilräume ergibt sich, dass nicht in allen Regionen die</text>
<text class="pa" x="946.4" y="1048.6">vollständige Schichtenfolge überliefert ist.</text>
</g>
<g id="credit">
<text transform="translate(1542.6,1018.3) rotate(-90)" style="font-size:10.4px;text-anchor:middle">© 2022 GD NRW</text>
<g stroke="#E8691E" stroke-width="1.8">
<line x1="1465.6" y1="1055.6" x2="1489.7" y2="1055.6"/>
<line x1="1465.6" y1="1061.9" x2="1489.7" y2="1061.9"/>
<line x1="1465.6" y1="1068.4" x2="1489.7" y2="1068.4"/>
</g>
</g>
</g>
</svg>
